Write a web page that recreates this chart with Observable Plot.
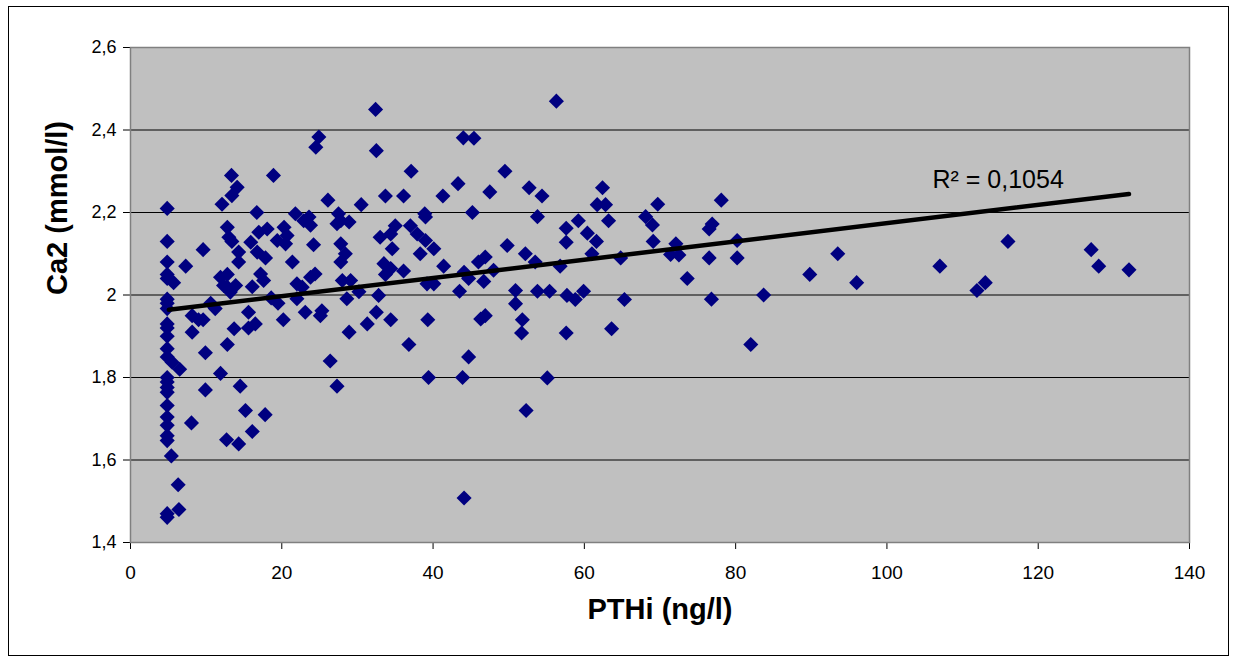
<!DOCTYPE html>
<html><head><meta charset="utf-8">
<script src="https://cdn.jsdelivr.net/npm/d3@7"></script>
<script src="https://cdn.jsdelivr.net/npm/@observablehq/plot@0.6"></script>
<style>
html,body{margin:0;padding:0;background:#fff;}
#wrap{position:relative;width:1233px;height:662px;}
#border{position:absolute;left:8px;top:6px;width:1219px;height:648px;border:1px solid #000;pointer-events:none;}
svg{position:absolute;left:0;top:0;}
</style></head><body><div id="wrap"><div id="border"></div></div>
<script>
// PTHi (ng/l)
const pthi = [
 4.85,4.85,4.85,4.85,4.85,4.85,4.85,4.85,4.85,4.85,4.85,4.85,4.85,5.5,4.85,4.85,4.85,4.85,4.85,4.85,4.85,4.85,4.85,4.85,4.85,
 5.4,5.7,6.3,6.4,6.5,7.3,
 8.15,9.0,9.6,8.15,10.6,11.2,9.9,9.9,8.06,9.6,
 12.1,13.35,14.1,13.4,16.7,18.9,12.8,13,13.4,14.3,14.3,15.9,16.75,17.85,16.96,18.07,19.4,17.2,12.8,12.8,13.9,13.2,16.1,11.9,12.3,17.6,
 18.6,19.5,20.2,13.7,15.6,15.6,16.5,12.8,11.9,14.5,15.2,17.8,16.1,12.7,14.3,
 20.3,20.7,20.5,21.4,21.8,22.9,23.6,23.8,24.2,24.9,24.5,26.1,27.5,27.8,28.9,27.3,27.8,28.4,27.8,30.5,24.4,23.8,22,22.7,
 22,23.1,25.3,25.1,28,29.1,28.6,30.2,28.9,26.4,27.3,31.3,32.4,32.5,32.8,32.5,
 33.7,36.1,37.1,35,34.4,33,34.6,37,37.9,39,40.1,38.3,38.9,39,33.5,34.4,36.1,33.7,
 34.4,36.8,39.3,39.2,40.1,39.4,41.3,41.4,43.3,44.0,45.4,45.2,43.5,43.9,44.7,44.1,
 44.7,46.7,44.1,46,46.9,48,46.3,46.9,47.5,49.5,49.8,
 50.9,50.9,51.8,51.7,52.2,52.3,52.7,53.5,53.8,53.8,54.4,55.1,55.4,56.3,56.8,57.6,57.6,57.7,57.6,58.8,59.2,59.9,60.4,61,61.6,61.7,62.4,62.8,63.2,63.6,64.8,65.3,68.1,69,69.1,69.7,
 72.1,71.4,72.5,73.6,76.9,76.5,76.5,76.8,78.1,80.2,80.2,82,83.7,89.8,93.5,96,107,116,111.9,113,127,128,132
];
// Ca2 (mmol/l)
const ca2 = [
 2.21,2.13,2.08,2.05,2.04,1.99,1.98,1.967,1.93,1.92,1.90,1.87,1.85,1.837,1.80,1.789,1.776,1.764,1.732,1.704,1.684,1.659,1.647,1.47,1.461,
 1.61,2.03,1.54,1.48,1.82,2.07,
 1.95,1.94,1.94,1.91,1.98,1.967,1.86,1.77,1.69,2.11,
 2.22,2.29,2.261,2.241,2.2,2.29,2.164,2.14,2.13,2.104,2.08,2.128,2.104,2.09,2.152,2.16,2.132,2.051,2.05,2.019,2.023,2.007,2.02,2.043,2.023,2.035,
 1.993,1.98,1.94,1.918,1.958,1.92,1.93,1.88,1.81,1.779,1.72,1.71,1.669,1.649,1.639,
 2.164,2.144,2.124,2.08,2.197,2.18,2.189,2.169,2.122,2.383,2.358,2.23,2.197,2.18,2.177,2.173,2.124,2.1,2.08,2.219,2.051,2.043,2.027,2.019,
 1.991,1.958,1.962,1.95,2.035,2.035,1.991,2.008,1.91,1.84,1.779,1.93,2.45,2.35,1.999,1.958,
 2.24,2.24,2.30,2.168,2.148,2.14,2.112,2.168,2.148,2.132,2.112,2.1,2.197,2.189,2.076,2.064,2.058,2.05,
 1.94,1.88,1.94,2.027,2.027,1.8,2.24,2.07,2.27,2.381,2.38,2.2,2.009,1.8,1.85,1.508,
 2.04,2.033,2.055,2.08,2.092,2.06,1.942,1.95,2.25,2.30,2.12,
 2.011,1.979,1.94,1.908,2.10,1.72,2.26,2.08,2.009,2.19,2.24,1.799,2.009,2.47,2.07,2.162,2.128,1.999,1.908,1.989,2.18,2.009,2.15,2.1,2.13,2.219,2.26,2.219,2.18,1.918,2.09,1.989,2.19,2.17,2.13,2.22,
 2.124,2.098,2.097,2.04,2.172,2.16,2.09,1.99,2.23,2.132,2.09,1.88,2.0,2.05,2.1,2.03,2.07,2.13,2.011,2.03,2.11,2.07,2.061
];
// linear trend line (Excel trendline): endpoints
const trendX = [5.07, 132];
const trendY = [1.964, 2.245];
const xTicks = [0, 20, 40, 60, 80, 100, 120, 140];
const yTicks = [1.4, 1.6, 1.8, 2, 2.2, 2.4, 2.6];
const xTitle = "PTHi (ng/l)";
const yTitle = "Ca2 (mmol/l)";
const r2Label = "R² = 0,1054";

const data = pthi.map((x, i) => ({x, y: ca2[i]}));
const trend = trendX.map((x, i) => ({x, y: trendY[i]}));
const fmt = d => String(d).replace(".", ",");
const font = "'Liberation Sans', Arial, sans-serif";

const chart = Plot.plot({
  width: 1233, height: 662,
  marginLeft: 130, marginRight: 44, marginTop: 47, marginBottom: 120,
  x: {domain: [0, 140]},
  y: {domain: [1.4, 2.6]},
  style: {fontFamily: font, fontSize: "18px", background: "transparent", color: "#000"},
  marks: [
    Plot.frame({fill: "#c0c0c0"}),
    Plot.gridY(yTicks.slice(1, -1), {stroke: "#000", strokeOpacity: 1, strokeWidth: 1}),
    Plot.axisX(xTicks, {tickSize: 7, tickPadding: 16, label: null, fontSize: 19}),
    Plot.axisY(yTicks, {tickSize: 7, tickPadding: 7, label: null, tickFormat: fmt, fontSize: 18}),
    Plot.dot(data, {x: "x", y: "y", symbol: "diamond2", r: 6.8, fill: "#000080", stroke: "none"}),
    Plot.line(trend, {x: "x", y: "y", stroke: "#000", strokeWidth: 4.5}),
    Plot.frame({stroke: "#808080", strokeWidth: 1.5}),
    Plot.text([r2Label], {frameAnchor: "top-right", dx: -257, dy: 123, text: d => d, textAnchor: "start", fontSize: 25, fill: "#000"}),
    Plot.text([xTitle], {frameAnchor: "bottom", dy: 76, text: d => d, fontSize: 29, fontWeight: "bold", fill: "#000"}),
    Plot.text([yTitle], {frameAnchor: "left", dx: -73, rotate: -90, text: d => d, fontSize: 29, fontWeight: "bold", fill: "#000"})
  ]
});
document.getElementById("wrap").appendChild(chart);
</script>
</body></html>
